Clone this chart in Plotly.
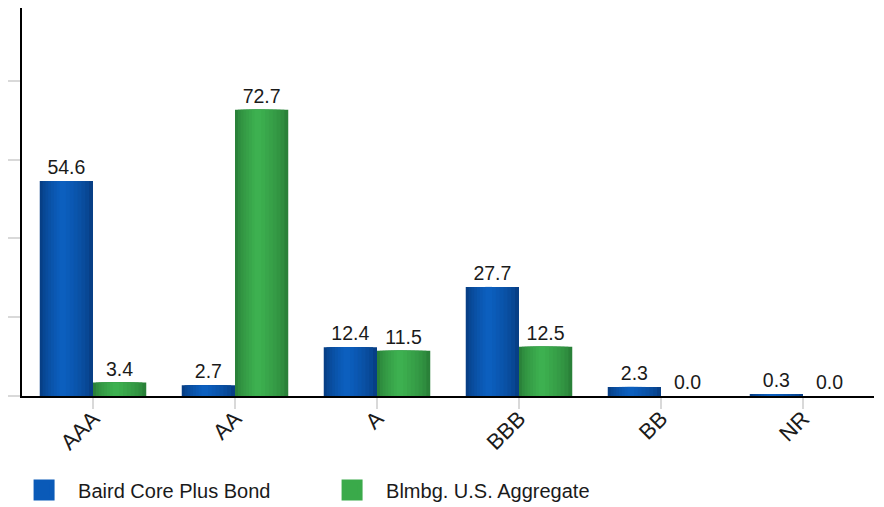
import plotly.graph_objects as go

categories = ["AAA", "AA", "A", "BBB", "BB", "NR"]
baird = [54.6, 2.7, 12.4, 27.7, 2.3, 0.3]
blmbg = [3.4, 72.7, 11.5, 12.5, 0.0, 0.0]
series_names = ["Baird Core Plus Bond", "Blmbg. U.S. Aggregate"]

FONT = "Liberation Sans, Arial, sans-serif"
idx = list(range(len(categories)))

def hex2rgb(h):
    h = h.lstrip("#")
    return tuple(int(h[i:i + 2], 16) for i in (0, 2, 4))

def mix(c1, c2, t):
    a, b = hex2rgb(c1), hex2rgb(c2)
    return "rgb(%d,%d,%d)" % tuple(round(a[i] + (b[i] - a[i]) * t) for i in range(3))

specs = [
    dict(vals=baird, name=series_names[0], left=-0.375, dark="#073f86", light="#0c62c4", legend="#0a5ab8"),
    dict(vals=blmbg, name=series_names[1], left=0.0, dark="#2a8139", light="#3fb552", legend="#3aaa4a"),
]
W = 0.375
PEAK = 0.42
N = 8

fig = go.Figure()
for s in specs:
    # base bar with value labels
    fig.add_trace(go.Bar(
        x=idx, y=s["vals"], offset=s["left"], width=W,
        marker=dict(color=s["dark"], line=dict(width=0)),
        text=[f"{v:.1f}" for v in s["vals"]], textposition="outside",
        textfont=dict(family=FONT, size=19.5, color="#1a1a1a"),
        cliponaxis=False, showlegend=False, hoverinfo="skip",
    ))
    # gradient layers
    for k in range(1, N):
        t = k / N
        lo = s["left"] + PEAK * W * t
        hi = s["left"] + W - (1 - PEAK) * W * t
        fig.add_trace(go.Bar(
            x=idx, y=s["vals"], offset=lo, width=hi - lo,
            marker=dict(color=mix(s["dark"], s["light"], t ** 0.7), line=dict(width=0)),
            showlegend=False, hoverinfo="skip",
        ))

for s in specs:
    fig.add_trace(go.Scatter(
        x=[None], y=[None], mode="markers", name=s["name"],
        marker=dict(symbol="square", size=22, color=s["legend"],
                    line=dict(width=6, color=s["legend"])),
    ))

fig.update_layout(
    width=876, height=499,
    margin=dict(l=14, r=10, t=0, b=111, autoexpand=False),
    paper_bgcolor="white", plot_bgcolor="white",
    barmode="overlay",
    showlegend=True,
    legend=dict(
        orientation="h", x=-0.014, xanchor="left", y=-0.242, yanchor="middle",
        font=dict(family=FONT, size=20, color="#1a1a1a"),
        itemwidth=58, entrywidth=235, entrywidthmode="pixels",
        bgcolor="rgba(0,0,0,0)",
    ),
    xaxis=dict(
        tickmode="array", tickvals=idx, ticktext=categories,
        range=[-0.5, len(categories) - 0.5],
        tickangle=-45, tickfont=dict(family=FONT, size=22, color="#1a1a1a"),
        showline=True, linecolor="black", linewidth=2,
        ticks="outside", ticklen=11, tickwidth=2, tickcolor="#d9d9d9",
        ticklabelstandoff=-12,
        showgrid=False, zeroline=False, fixedrange=True, automargin=False,
    ),
    yaxis=dict(
        range=[0, 98.5], dtick=20, tick0=0,
        showticklabels=False,
        showline=True, linecolor="black", linewidth=2,
        ticks="outside", ticklen=12, tickwidth=2, tickcolor="#d9d9d9",
        showgrid=False, zeroline=False, fixedrange=True, automargin=False,
    ),
)

fig.write_html("out.html")
